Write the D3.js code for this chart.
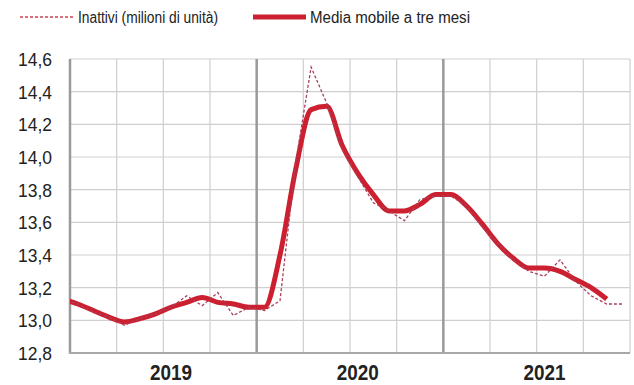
<!DOCTYPE html>
<html>
<head>
<meta charset="utf-8">
<script src="https://cdn.jsdelivr.net/npm/d3@7"></script>
<style>
  html, body { margin: 0; padding: 0; background: #fff; }
  svg { display: block; }
  text { font-family: "Liberation Sans", Arial, sans-serif; fill: #222; }
</style>
</head>
<body>
<svg id="chart" width="634" height="385"></svg>
<script>
// Months from Dec 2018 to Dec 2021 (Dec 2018 lies just outside the plotted range)
const months = [
  "2018-12",
  "2019-01","2019-02","2019-03","2019-04","2019-05","2019-06","2019-07","2019-08","2019-09","2019-10","2019-11","2019-12",
  "2020-01","2020-02","2020-03","2020-04","2020-05","2020-06","2020-07","2020-08","2020-09","2020-10","2020-11","2020-12",
  "2021-01","2021-02","2021-03","2021-04","2021-05","2021-06","2021-07","2021-08","2021-09","2021-10","2021-11","2021-12"
];
// Inattivi (milioni di unità) - monthly
const inattivi = [
  13.13,
  13.10, 13.05, 13.02, 12.97, 13.01, 13.04, 13.08, 13.15, 13.09, 13.17, 13.03, 13.08,
  13.06, 13.12, 13.96, 14.55, 14.33, 14.05, 13.88, 13.72, 13.67, 13.61, 13.74, 13.76,
  13.76, 13.70, 13.57, 13.47, 13.37, 13.30, 13.27, 13.37, 13.24, 13.15, 13.10, 13.10
];
// Media mobile a tre mesi (centred)
const mediaMobile = [
  13.13,
  13.10, 13.06, 13.02, 12.99, 13.01, 13.04, 13.08, 13.11, 13.14, 13.11, 13.10, 13.08,
  13.08, 13.40, 13.92, 14.29, 14.31, 14.07, 13.90, 13.77, 13.67, 13.67, 13.71, 13.77,
  13.77, 13.70, 13.59, 13.47, 13.38, 13.32, 13.32, 13.30, 13.25, 13.20, 13.13, null
];
const years = ["2019", "2020", "2021"];
const yTicks = [12.8, 13.0, 13.2, 13.4, 13.6, 13.8, 14.0, 14.2, 14.4, 14.6];
const legendLabels = ["Inattivi (milioni di unità)", "Media mobile a tre mesi"];

const svg = d3.select("#chart");
const pLeft = 70, pRight = 630, pTop = 59, pBottom = 353;

// month index: 0 = Jan 2019 start
const monthIndex = m => {
  const [yy, mo] = m.split("-").map(Number);
  return (yy - 2019) * 12 + (mo - 1);
};
const x = d3.scaleLinear().domain([0, 36]).range([pLeft, pRight]);
const y = d3.scaleLinear().domain([12.8, 14.6]).range([pBottom, pTop]);
const fmt = v => d3.format(".1f")(v).replace(".", ",");

// Grid
const grid = svg.append("g");
grid.selectAll("line.h").data(yTicks).join("line")
  .attr("x1", pLeft).attr("x2", pRight)
  .attr("y1", d => y(d)).attr("y2", d => y(d))
  .attr("stroke", "#cfcfcf").attr("stroke-width", 1.2);
const quarterTicks = d3.range(3, 36, 3).filter(d => d % 12 !== 0);
grid.selectAll("line.v").data(quarterTicks).join("line")
  .attr("x1", d => x(d)).attr("x2", d => x(d))
  .attr("y1", pTop).attr("y2", pBottom)
  .attr("stroke", "#cfcfcf").attr("stroke-width", 1.2);
grid.append("line").attr("x1", x(36)).attr("x2", x(36)).attr("y1", pTop).attr("y2", pBottom)
  .attr("stroke", "#cfcfcf").attr("stroke-width", 1.2);
// year separators
grid.selectAll("line.yr").data([12, 24]).join("line")
  .attr("x1", d => x(d)).attr("x2", d => x(d))
  .attr("y1", pTop).attr("y2", pBottom)
  .attr("stroke", "#9a9a9a").attr("stroke-width", 2.5);

// Axes lines
svg.append("line").attr("x1", pLeft).attr("x2", pLeft).attr("y1", pTop).attr("y2", pBottom + 1)
  .attr("stroke", "#9a9a9a").attr("stroke-width", 2.5);
svg.append("line").attr("x1", pLeft - 1).attr("x2", pRight).attr("y1", pBottom).attr("y2", pBottom)
  .attr("stroke", "#a8a8a8").attr("stroke-width", 2);

// Y labels (condensed)
svg.append("g").selectAll("text").data(yTicks).join("text")
  .attr("x", 18).attr("y", d => y(d))
  .attr("dy", "0.36em")
  .attr("font-size", 19)
  .attr("textLength", 34)
  .attr("lengthAdjust", "spacingAndGlyphs")
  .text(fmt);

// Year labels (placed at July)
svg.append("g").selectAll("text").data(years).join("text")
  .attr("x", (d, i) => x(i * 12 + 6.5) - 21)
  .attr("y", 380)
  .attr("font-size", 22)
  .attr("font-weight", "bold")
  .attr("textLength", 42)
  .attr("lengthAdjust", "spacingAndGlyphs")
  .text(d => d);

// Clip
svg.append("clipPath").attr("id", "clip").append("rect")
  .attr("x", pLeft).attr("y", pTop - 20).attr("width", pRight - pLeft).attr("height", pBottom - pTop + 20);

const lineGen = d3.line()
  .defined(d => d.v != null)
  .x(d => x(d.i + 0.5)).y(d => y(d.v));
const smoothGen = d3.line()
  .defined(d => d.v != null)
  .curve(d3.curveMonotoneX)
  .x(d => x(d.i + 0.5)).y(d => y(d.v));

const rawData = months.map((m, k) => ({ i: monthIndex(m), v: inattivi[k] }));
const maData = months.map((m, k) => ({ i: monthIndex(m), v: mediaMobile[k] }));

const plot = svg.append("g").attr("clip-path", "url(#clip)");
plot.append("path").datum(maData)
  .attr("d", smoothGen)
  .attr("fill", "none")
  .attr("stroke", "#cc1f2f")
  .attr("stroke-width", 5)
  .attr("stroke-linejoin", "round");
plot.append("path").datum(rawData)
  .attr("d", lineGen)
  .attr("fill", "none")
  .attr("stroke", "#a8405a")
  .attr("stroke-width", 1.3)
  .attr("stroke-dasharray", "3,2");

// Legend
const lg = svg.append("g");
lg.append("line").attr("x1", 20).attr("x2", 74).attr("y1", 17).attr("y2", 17)
  .attr("stroke", "#d0404f").attr("stroke-width", 1.3).attr("stroke-dasharray", "3,2");
lg.append("text").attr("x", 78).attr("y", 17).attr("dy", "0.36em")
  .attr("font-size", 16)
  .attr("textLength", 140).attr("lengthAdjust", "spacingAndGlyphs")
  .text(legendLabels[0]);
lg.append("line").attr("x1", 253).attr("x2", 306).attr("y1", 17).attr("y2", 17)
  .attr("stroke", "#cc1f2f").attr("stroke-width", 5);
lg.append("text").attr("x", 310).attr("y", 17).attr("dy", "0.36em")
  .attr("font-size", 16)
  .attr("textLength", 160).attr("lengthAdjust", "spacingAndGlyphs")
  .text(legendLabels[1]);
</script>
</body>
</html>
